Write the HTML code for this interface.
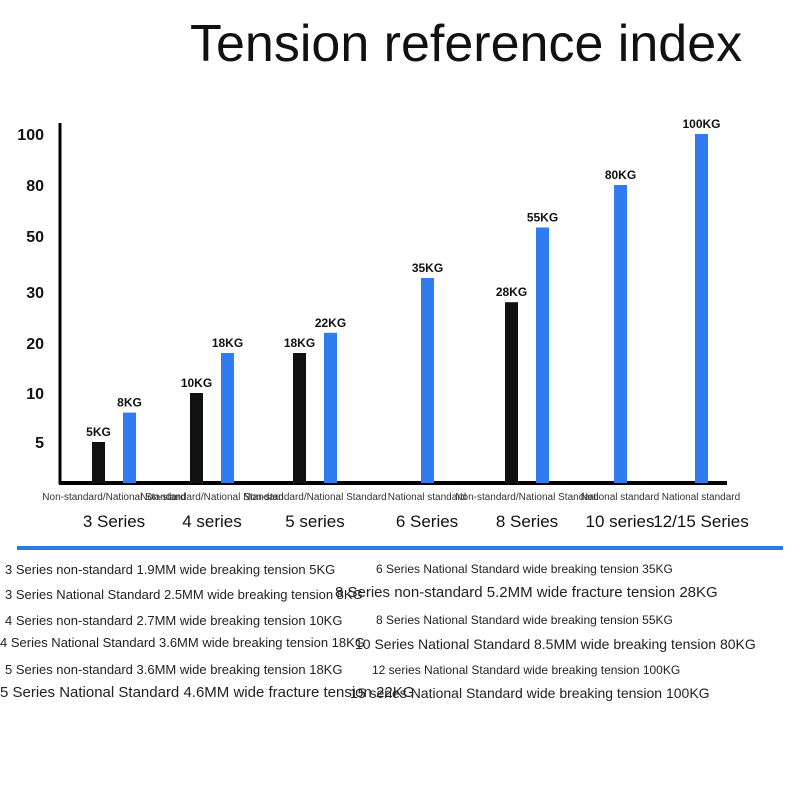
<!DOCTYPE html>
<html><head><meta charset="utf-8"><style>
body{margin:0;background:#fff;width:800px;height:800px;overflow:hidden;font-family:"Liberation Sans",sans-serif}
.t{position:absolute;white-space:nowrap;color:#222}
</style></head><body>
<div class="t" style="left:190px;top:14px;font-size:52px;color:#111">Tension reference index</div>
<svg id="c" width="800" height="560" style="position:absolute;left:0;top:0"></svg>
<div style="position:absolute;left:17px;top:546px;width:766px;height:4px;background:#2b7be4"></div>
<div>
<div class="t" style="left:5px;top:562px;font-size:13px">3 Series non-standard 1.9MM wide breaking tension 5KG</div>
<div class="t" style="left:5px;top:587px;font-size:13px">3 Series National Standard 2.5MM wide breaking tension 8KG</div>
<div class="t" style="left:5px;top:613px;font-size:13px">4 Series non-standard 2.7MM wide breaking tension 10KG</div>
<div class="t" style="left:0px;top:635px;font-size:13px">4 Series National Standard 3.6MM wide breaking tension 18KG</div>
<div class="t" style="left:5px;top:662px;font-size:13px">5 Series non-standard 3.6MM wide breaking tension 18KG</div>
<div class="t" style="left:0px;top:684px;font-size:15px">5 Series National Standard 4.6MM wide fracture tension 22KG</div>
<div class="t" style="left:376px;top:562px;font-size:12px">6 Series National Standard wide breaking tension 35KG</div>
<div class="t" style="left:335px;top:584px;font-size:15px">8 Series non-standard 5.2MM wide fracture tension 28KG</div>
<div class="t" style="left:376px;top:613px;font-size:12px">8 Series National Standard wide breaking tension 55KG</div>
<div class="t" style="left:355px;top:636px;font-size:14px">10 Series National Standard 8.5MM wide breaking tension 80KG</div>
<div class="t" style="left:372px;top:663px;font-size:12px">12 series National Standard wide breaking tension 100KG</div>
<div class="t" style="left:350px;top:685px;font-size:14px">15 series National Standard wide breaking tension 100KG</div>
</div>
<script>
const tickVals=[5,10,20,30,50,80,100];
const tickPos=[442,393,343,292,236,185,134];
const series=["3 Series","4 series","5 series","6 Series","8 Series","10 series","12/15 Series"];
const nonStd=[5,10,18,null,28,null,null];
const natStd=[8,18,22,35,55,80,100];
const sub=["Non-standard/National Standard","Non-standard/National Standard","Non-standard/National Standard","National standard","Non-standard/National Standard","National standard","National standard"];
const base=483;
function y(v){const vs=[0].concat(tickVals),ps=[base].concat(tickPos);
 for(let i=1;i<vs.length;i++){if(v<=vs[i]){return ps[i-1]+(v-vs[i-1])/(vs[i]-vs[i-1])*(ps[i]-ps[i-1]);}}
 return tickPos[tickPos.length-1];}
const cx=[114,212,315,427,527,620,701];
const svg=document.getElementById('c');const NS='http://www.w3.org/2000/svg';
function mk(t,a,txt){const e=document.createElementNS(NS,t);for(const k in a)e.setAttribute(k,a[k]);if(txt!=null)e.textContent=txt;svg.appendChild(e);return e;}
let e=mk('line',{x1:60,y1:123,x2:60,y2:484,stroke:'#000','stroke-width':3});


e=mk('line',{x1:59,y1:483,x2:727,y2:483,stroke:'#000','stroke-width':4});


tickVals.forEach((v,i)=>{const t=mk('text',{x:44,y:y(v)+6,'text-anchor':'end','font-size':16,'font-weight':'bold',fill:'#111'},v);

});
series.forEach((s,i)=>{
 const c=cx[i];
 if(nonStd[i]!=null){const x=c-22;const r=mk('rect',{x:x,y:y(nonStd[i]),width:13,height:base-y(nonStd[i]),fill:'#111'});
 
 
 const l=mk('text',{x:x+6.5,y:y(nonStd[i])-6,'text-anchor':'middle','font-size':12,'font-weight':'bold',fill:'#111'},nonStd[i]+'KG');
 
 }
 const x2=nonStd[i]!=null?c+9:c-6;
 const r=mk('rect',{x:x2,y:y(natStd[i]),width:13,height:base-y(natStd[i]),fill:'#2f7cf0'});
 
 
 const l=mk('text',{x:x2+6.5,y:y(natStd[i])-6,'text-anchor':'middle','font-size':12,'font-weight':'bold',fill:'#111'},natStd[i]+'KG');
 
 
 const sl=mk('text',{x:c,y:500,'text-anchor':'middle','font-size':10,fill:'#333'},sub[i]);
 
 
 const cl=mk('text',{x:c,y:527,'text-anchor':'middle','font-size':17,fill:'#111'},s);
 
 
});
</script>
</body></html>
